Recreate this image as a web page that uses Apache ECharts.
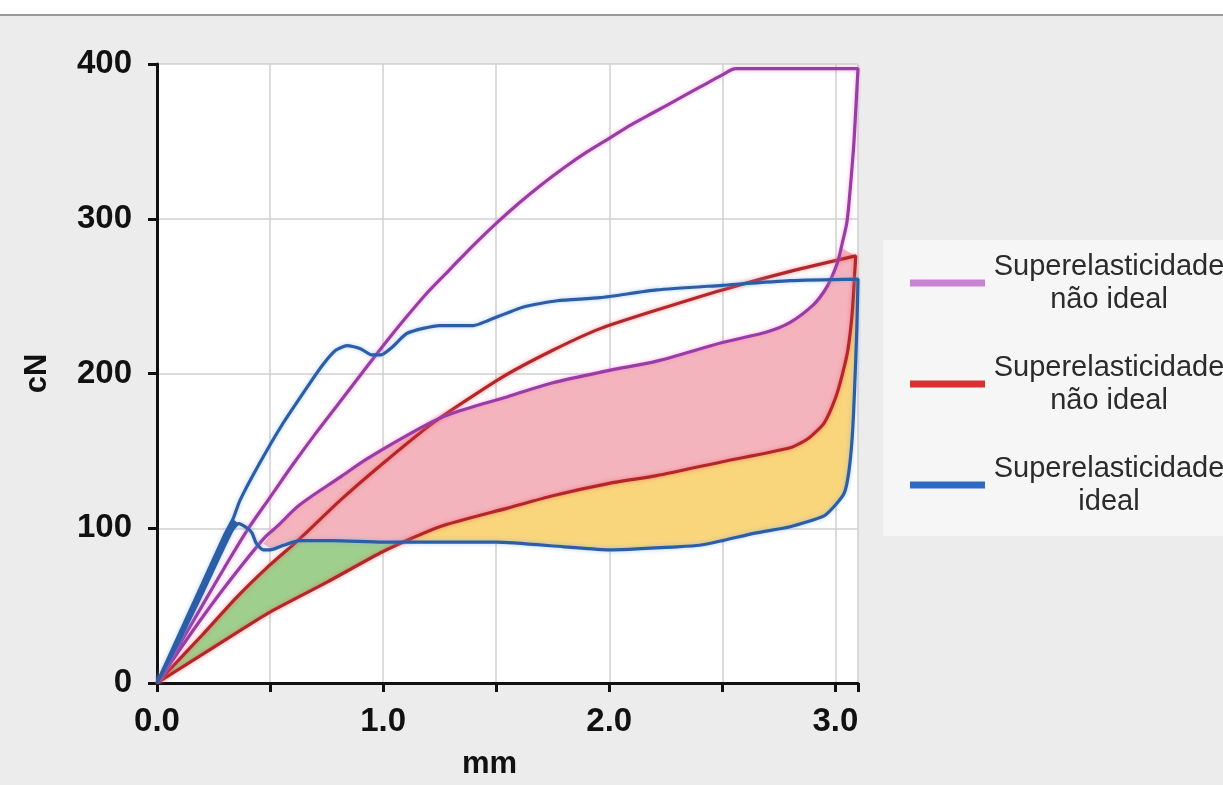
<!DOCTYPE html>
<html>
<head>
<meta charset="utf-8">
<script src="https://cdn.jsdelivr.net/npm/echarts@6/dist/echarts.min.js"></script>
<style>
html,body{margin:0;padding:0;background:#fff;}
#c{width:1223px;height:785px;}
</style>
</head>
<body>
<div id="c"></div>
<script>
// ---- tick labels / axis ----
const xTicks = [0, 0.5, 1.0, 1.5, 2.0, 2.5, 3.0];
const yTicks = [0, 100, 200, 300, 400];
const xName = 'mm';
const yName = 'cN';

// ---- legend ----
const legendNames = ['p', 'r', 'b'];
const legendLabels = ['Superelasticidade\nnão ideal', 'Superelasticidade\nnão ideal', 'Superelasticidade\nideal'];

// ---- curves (x in mm, y in cN), in drawing order of each loop ----
const purpleLoop = [
  [0,0],[0.1,25],[0.2,50],[0.3,75],[0.4,99],[0.5,120],[0.6,141],[0.7,161],[0.8,180],[0.9,199],
  [1.0,218],[1.1,236],[1.2,253],[1.3,268],[1.4,283],[1.5,297],[1.6,310],[1.7,322],[1.8,333],
  [1.9,343],[2.0,352],[2.1,361],[2.2,369],[2.3,377],[2.4,385],[2.5,393],[2.56,397],[2.8,397],[3.1,397],
  [3.09,370],[3.08,345],[3.06,310],[3.05,297],[3.03,284],[3.01,272],[2.98,261],[2.95,253],
  [2.9,244],[2.8,233],[2.7,227],[2.5,220],[2.21,208],[2.0,202],[1.75,194],[1.55,185],[1.3,174],
  [1.18,166],[0.93,145],[0.81,133],[0.63,115],[0.53,101],[0.47,93],[0.3,62],[0.15,32],[0,0]
];
const redLoop = [
  [0,0],[0.2,31],[0.35,55],[0.49,75],[0.63,93],[0.81,118],[1.0,142],[1.22,168],[1.52,197],
  [1.75,215],[1.96,229],[2.21,241],[2.5,254],[2.8,266],[3.09,276],
  [3.075,240],[3.055,215],[3.03,199],[3.0,184],[2.95,168],[2.88,158],[2.8,152],[2.5,143],
  [2.21,134],[2.0,129],[1.75,121],[1.55,113],[1.25,101],[1.0,85],[0.75,65],[0.49,45],[0.25,23],[0,0]
];
const blueLoop = [
  [0,0],[0.1,32],[0.2,64],[0.3,96],[0.336,106],[0.367,118],[0.45,141],[0.558,168],[0.677,194],
  [0.735,206],[0.79,215],[0.84,218],[0.9,216],[0.95,212],[0.99,212],[1.04,217],[1.106,226],
  [1.25,231],[1.4,231],[1.46,234],[1.62,243],[1.77,247],[1.96,249],[2.21,254],[2.5,257],
  [2.8,260],[3.1,261],
  [3.095,230],[3.085,190],[3.075,160],[3.06,137],[3.04,123],[3.0,115],[2.95,108],[2.8,101],
  [2.65,97],[2.5,92],[2.4,89],[2.3,88],[2.0,86],[1.8,88],[1.5,91],[1.22,91],[1.0,91],
  [0.78,92],[0.63,92],[0.56,89],[0.5,86],[0.47,86],[0.44,90],[0.42,97],[0.40,100],
  [0.36,103],[0.33,98],[0.2,58],[0.1,28],[0,0]
];

// ---- shaded regions (outline vertices) ----
const blueWedge = [[0,0],[0.3,96],[0.336,106],[0.36,103],[0.33,98],[0.2,58],[0,0]];
const greenArea = [
  [0,0],[0.2,31],[0.35,55],[0.49,75],[0.63,92],[0.78,92],[1.0,91],[1.09,91],
  [1.0,85],[0.75,65],[0.49,45],[0.25,23],[0,0]
];
const pinkArea = [
  [0.47,90],[0.53,101],[0.63,115],[0.81,133],[0.93,145],[1.18,166],[1.3,174],[1.55,185],
  [1.75,194],[2.0,202],[2.21,208],[2.5,220],[2.7,227],[2.8,233],[2.9,244],[2.95,253],
  [2.98,261],[3.01,272],[3.03,281],[3.09,276],
  [3.075,240],[3.055,215],[3.03,199],[3.0,184],[2.95,168],[2.88,158],[2.8,152],[2.5,143],
  [2.21,134],[2.0,129],[1.75,121],[1.55,113],[1.25,101],[1.09,91],[1.0,91],[0.78,92],
  [0.63,92],[0.56,89],[0.5,87]
];
const yellowArea = [
  [1.09,91],[1.25,101],[1.55,113],[1.75,121],[2.0,129],[2.21,134],[2.5,143],[2.8,152],
  [2.88,158],[2.95,168],[3.0,184],[3.03,199],[3.055,215],[3.075,240],[3.082,261],[3.1,261],
  [3.095,230],[3.085,190],[3.075,160],[3.06,137],[3.04,123],[3.0,115],[2.95,108],[2.8,101],
  [2.65,97],[2.5,92],[2.4,89],[2.3,88],[2.0,86],[1.8,88],[1.5,91],[1.22,91]
];

const chart = echarts.init(document.getElementById('c'), null, {renderer: 'canvas'});

function areaSeries(poly, color, z) {
  return {
    type: 'custom',
    silent: true,
    z: z || 1,
    data: [[0, 0]],
    renderItem: function (params, api) {
      const pts = poly.map(function (p) { return api.coord(p); });
      return {type: 'polygon', shape: {points: pts}, style: {fill: color}};
    }
  };
}
function loopSeries(name, data, color, glow, smooth) {
  return {
    name: name, type: 'line', data: data, showSymbol: false, smooth: smooth, z: 3,
    lineStyle: {width: 3.2, color: color, shadowColor: glow, shadowBlur: 4},
    itemStyle: {color: color}
  };
}

const labelFont = "'Liberation Sans',Arial,sans-serif";

chart.setOption({
  backgroundColor: '#ececec',
  animation: false,
  graphic: [
    {type: 'rect', shape: {x: 0, y: 0, width: 1223, height: 14}, style: {fill: '#ffffff'}, z: 0},
    {type: 'rect', shape: {x: 0, y: 14, width: 1223, height: 2}, style: {fill: '#9a9a9a'}, z: 0},
    {type: 'rect', shape: {x: 883, y: 240, width: 340, height: 296}, style: {fill: '#f6f6f6'}, z: 0}
  ],
  grid: {left: 157, right: 365, top: 64, bottom: 102, show: true, backgroundColor: '#ffffff', borderWidth: 0},
  xAxis: {
    type: 'value', min: 0, max: 3.1, interval: 0.5,
    name: xName, nameLocation: 'middle', nameGap: 66,
    nameTextStyle: {fontFamily: labelFont, fontWeight: 'bold', fontSize: 31, color: '#111', padding: [0, 36, 0, 0]},
    axisLine: {lineStyle: {color: '#111', width: 3}},
    axisTick: {show: true, length: 9, lineStyle: {color: '#111', width: 3}},
    axisLabel: {
      margin: 22, fontFamily: labelFont, fontWeight: 'bold', fontSize: 33, color: '#111',
      formatter: function (v) {
        const hit = xTicks.find(function (t) { return Math.abs(t - v) < 1e-9 && Math.abs(t - Math.round(t)) < 1e-9; });
        return hit === undefined ? '' : hit.toFixed(1);
      }
    },
    splitLine: {show: true, lineStyle: {color: '#d0d0d0', width: 1.5}}
  },
  yAxis: {
    type: 'value', min: yTicks[0], max: yTicks[yTicks.length - 1], interval: 100,
    name: yName, nameLocation: 'middle', nameGap: 104, nameRotate: 90,
    nameTextStyle: {fontFamily: labelFont, fontWeight: 'bold', fontSize: 31, color: '#111'},
    axisLine: {show: true, lineStyle: {color: '#111', width: 3}},
    axisTick: {show: true, length: 9, lineStyle: {color: '#111', width: 3}},
    axisLabel: {margin: 25, fontFamily: labelFont, fontWeight: 'bold', fontSize: 33, color: '#111'},
    splitLine: {show: true, lineStyle: {color: '#d0d0d0', width: 1.5}}
  },
  legend: {
    orient: 'vertical', left: 905, top: 247, itemWidth: 75, itemHeight: 7, itemGap: 39,
    icon: 'rect',
    data: [
      {name: legendNames[0], itemStyle: {color: '#c883d2'}},
      {name: legendNames[1], itemStyle: {color: '#d93131'}},
      {name: legendNames[2], itemStyle: {color: '#2c6cc6'}}
    ],
    formatter: function (n) {
      const t = legendLabels[legendNames.indexOf(n)].split('\n');
      return t.map(function (s) { return '{t|' + s + '}'; }).join('\n');
    },
    textStyle: {
      rich: {t: {width: 238, align: 'center', fontSize: 29, lineHeight: 33, color: '#2b2b2b',
                 fontFamily: "'Liberation Sans',Arial,sans-serif"}}
    }
  },
  series: [
    areaSeries(greenArea, '#9fcf8c'),
    areaSeries(yellowArea, '#f9d57c'),
    areaSeries(pinkArea, '#f4b4bd'),
    areaSeries(blueWedge, '#2c5ea8', 4),
    loopSeries('r', redLoop, '#b5262a', 'rgba(240,80,80,0.6)', 0.2),
    loopSeries('p', purpleLoop, '#9a3ca6', 'rgba(240,120,200,0.6)', 0.3),
    loopSeries('b', blueLoop, '#2c5ea8', 'rgba(120,170,240,0.6)', 0.2)
  ]
});
</script>
</body>
</html>
